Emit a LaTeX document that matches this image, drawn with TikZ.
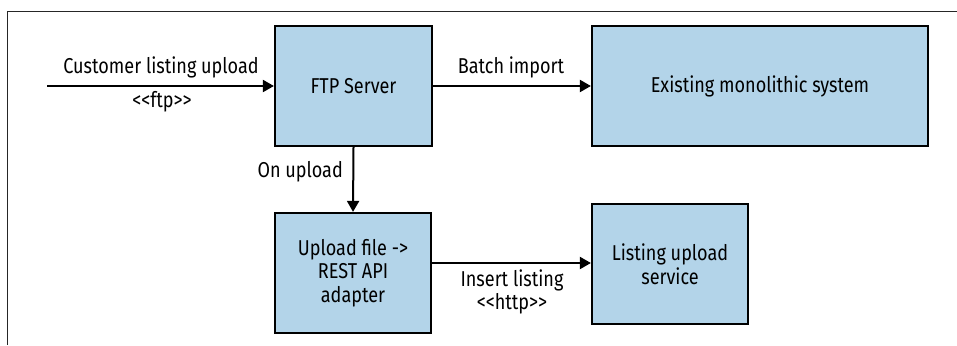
\documentclass[tikz,border=0pt]{standalone}
\usepackage{fontspec}
\setmainfont{Fira Sans}[FakeStretch=0.84]
\usetikzlibrary{arrows.meta}
\definecolor{boxblue}{RGB}{179,212,233}
\tikzset{
  x=1pt, y=-1pt,
  svc/.style={draw=black, line width=2.2pt, fill=boxblue, align=center, font=\fontsize{21.5}{23.5}\selectfont, inner sep=0pt},
  conn/.style={line width=2pt, -{Triangle[length=11pt,width=12pt]}},
  lbl/.style={font=\fontsize{21.5}{23.5}\selectfont, inner sep=0pt, align=center}
}
\begin{document}
\begin{tikzpicture}
\useasboundingbox (0,0) rectangle (957,345);
\draw[line width=1pt, draw=black!85] (7.5,345) -- (7.5,11.5) -- (957,11.5);
\node[svc, minimum width=157pt, minimum height=120pt] (ftp) at (353.5,86) {FTP Server};
\node[svc, minimum width=336pt, minimum height=120pt] (mono) at (760,86) {Existing monolithic system};
\node[svc, minimum width=156pt, minimum height=120pt] (adapt) at (353,273) {Upload file ->\\REST API\\adapter};
\node[svc, minimum width=156pt, minimum height=120pt] (lus) at (670,264) {Listing upload\\service};
\coordinate (src) at (47,86);
\draw[conn] (src) -- (ftp.west);
\draw[conn] (ftp.east) -- (mono.west);
\draw[conn] (ftp.south) -- (adapt.north);
\draw[conn] (adapt.east |- 0,263) -- (lus.west |- 0,263);
\node[lbl] (l1) at (161,67) {Customer listing upload};
\node[lbl] (l2) at (162,102) {{<}{<}ftp{>}{>}};
\node[lbl] (l3) at (511,67) {Batch import};
\node[lbl, anchor=east] (l4) at (343,172) {On upload};
\node[lbl] (l5) at (512,292) {Insert listing\\{<}{<}http{>}{>}};
\end{tikzpicture}
\end{document}
